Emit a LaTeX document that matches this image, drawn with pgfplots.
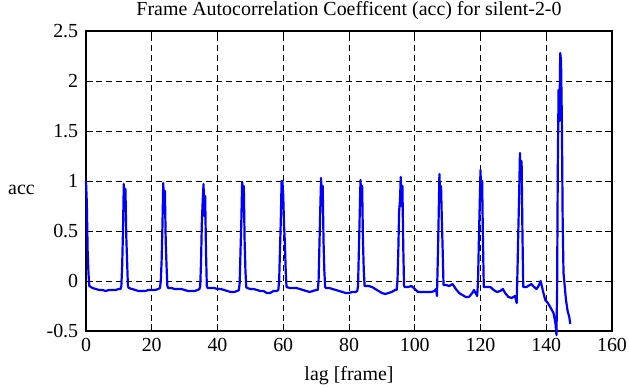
\documentclass[border=0pt]{standalone}
\usepackage{fontspec}
\setmainfont{Liberation Serif}
\usepackage{pgfplots}
\pgfplotsset{compat=1.18}
\begin{document}
\fontsize{20}{24}\selectfont
\begin{tikzpicture}
\path[use as bounding box] (-86bp,-56bp) rectangle (543bp,331bp);
\begin{axis}[
  scale only axis, width=526bp, height=300bp,
  xmin=0, xmax=160, ymin=-0.5, ymax=2.5,
  xtick={0,20,...,160}, ytick={-0.5,0,0.5,1,1.5,2,2.5},
  yticklabels={-0.5,0,0.5,1,1.5,2,2.5},
  grid=major,
  grid style={black, line width=0.8pt, dash pattern=on 6bp off 4bp},
  axis line style={line width=1.6pt},
  tick style={black, line width=1pt},
  major tick length=7bp,
  tick align=inside,
  clip=false,
  /pgf/number format/assume math mode=true,
  ticklabel style={font=\fontsize{20}{24}\selectfont},
  yticklabel style={xshift=-1bp},
  label style={font=\fontsize{20}{24}\selectfont},
  title style={font=\fontsize{20}{24}\selectfont, at={(axis description cs:0.5,1)}, anchor=base, inner sep=0pt, yshift=10bp},
  title={Frame Autocorrelation Coefficent (acc) for silent-2-0},
  xlabel={lag [frame]},
  xlabel style={at={(axis description cs:0.5,-0.15)}, anchor=center},
  ylabel={acc},
  ylabel style={rotate=-90, at={(axis description cs:-0.1226,0.47)}, anchor=center},
]
\addplot[color={rgb,255:red,0;green,0;blue,255}, line width=2.2bp, line join=round] coordinates {
(0,1.00) (0.25,0.78) (0.5,0.3) (0.75,0.08) (1.0,-0.05) (1.5,-0.06) (2,-0.07) (3,-0.08) (4,-0.09) (5,-0.09) (6,-0.10) (7,-0.09) (8,-0.09) (9,-0.09) (10,-0.08) (10.5,-0.08) (10.75,-0.05)
(11.0,0.15) (11.25,0.5) (11.5,0.97) (11.75,0.72) (12.0,0.92) (12.25,0.45) (12.5,0.2) (12.75,-0.05)
(13,-0.07) (14,-0.08) (15,-0.09) (16,-0.10) (17,-0.10) (18,-0.10) (19,-0.09) (20,-0.09) (21,-0.09) (22,-0.08) (22.5,-0.07)
(22.75,0.0) (23.0,0.2) (23.25,0.55) (23.5,0.98) (23.75,0.75) (24.0,0.9) (24.25,0.4) (24.5,0.15) (24.75,-0.05)
(25,-0.07) (26,-0.07) (27,-0.08) (28,-0.08) (29,-0.08) (30,-0.09) (31,-0.10) (32,-0.10) (33,-0.10) (34,-0.09) (34.5,-0.08)
(34.75,-0.05) (35.0,0.2) (35.25,0.6) (35.5,0.8) (35.75,0.97) (36.0,0.65) (36.25,0.85) (36.5,0.3) (36.75,-0.05)
(37,-0.07) (38,-0.07) (39,-0.07) (40,-0.08) (41,-0.08) (42,-0.09) (43,-0.10) (44,-0.11) (45,-0.11) (46,-0.10) (46.5,-0.09)
(46.75,-0.02) (47.0,0.3) (47.25,0.6) (47.5,0.99) (47.75,0.7) (48.0,0.95) (48.25,0.4) (48.5,0.1) (48.75,-0.06)
(49,-0.07) (50,-0.08) (51,-0.08) (52,-0.09) (53,-0.10) (54,-0.10) (55,-0.12) (56,-0.12) (57,-0.10) (58,-0.10) (58.5,-0.09)
(58.75,0.0) (59.0,0.3) (59.25,0.6) (59.5,1.0) (59.75,1.0) (60.0,0.85) (60.25,0.55) (60.5,0.38) (60.75,0.1) (61.0,-0.06)
(62,-0.07) (63,-0.07) (64,-0.07) (65,-0.08) (66,-0.09) (67,-0.10) (68,-0.11) (69,-0.10) (70,-0.09) (70.5,-0.09)
(70.75,0.0) (71.0,0.35) (71.25,0.7) (71.5,1.03) (71.75,0.75) (72.0,0.95) (72.25,0.4) (72.5,0.1) (72.75,-0.06)
(73,-0.07) (74,-0.07) (75,-0.08) (76,-0.09) (77,-0.10) (78,-0.11) (79,-0.12) (80,-0.12) (81,-0.11) (82,-0.11) (82.5,-0.10)
(82.75,-0.05) (83.0,0.3) (83.25,0.65) (83.5,1.01) (83.75,0.8) (84.0,0.95) (84.25,0.4) (84.5,0.1) (84.75,-0.05)
(85,-0.05) (86,-0.05) (87,-0.06) (88,-0.08) (89,-0.10) (90,-0.12) (91,-0.13) (92,-0.12) (93,-0.11) (94,-0.09) (94.5,-0.09)
(94.75,0.0) (95.0,0.3) (95.25,0.7) (95.5,0.8) (95.75,1.04) (96.0,0.75) (96.25,0.95) (96.5,0.35) (96.75,-0.05)
(97,-0.06) (98,-0.06) (99,-0.05) (100,-0.08) (101,-0.11) (102,-0.11) (103,-0.11) (104,-0.11) (105,-0.11) (106,-0.10) (106.5,-0.08)
(106.75,-0.15) (107.0,0.2) (107.25,0.6) (107.5,1.07) (107.75,0.8) (108.0,0.95) (108.25,0.6) (108.5,0.3) (108.75,-0.04)
(109.5,-0.04) (110.5,-0.05) (111.5,-0.03) (112.5,-0.08) (113.5,-0.12) (114.5,-0.14) (115.5,-0.16) (116.5,-0.16) (117.5,-0.12) (118,-0.09) (118.5,-0.12) (119,-0.15)
(119.25,0.0) (119.5,0.4) (119.75,0.75) (120.0,1.11) (120.25,0.8) (120.5,1.0) (120.75,0.4) (121.0,-0.06)
(122,-0.06) (123,-0.06) (124,-0.09) (125,-0.11) (126,-0.10) (126.8,-0.08) (127.5,-0.12) (128.5,-0.16) (129.5,-0.17) (130.5,-0.15) (131,-0.22)
(131.25,0.1) (131.5,0.5) (131.75,0.85) (132.0,1.28) (132.25,1.0) (132.5,1.2) (132.75,0.5) (133.0,-0.06)
(134,-0.06) (135,-0.04) (135.5,-0.03) (136,-0.05) (137,-0.08) (137.5,-0.06) (138.3,0.0) (139,-0.10) (139.7,-0.19) (140.5,-0.22) (141.2,-0.26) (142.2,-0.32) (142.8,-0.42) (143.1,-0.54)
(143.3,-0.1) (143.5,1.08) (143.75,1.91) (144.0,1.6) (144.25,2.28) (144.5,2.2) (144.75,1.6) (145.0,0.58) (145.25,0.08) (145.75,-0.1) (146.0,-0.19) (146.5,-0.30) (147.0,-0.36) (147.3,-0.43)
};
\end{axis}
\end{tikzpicture}
\end{document}
